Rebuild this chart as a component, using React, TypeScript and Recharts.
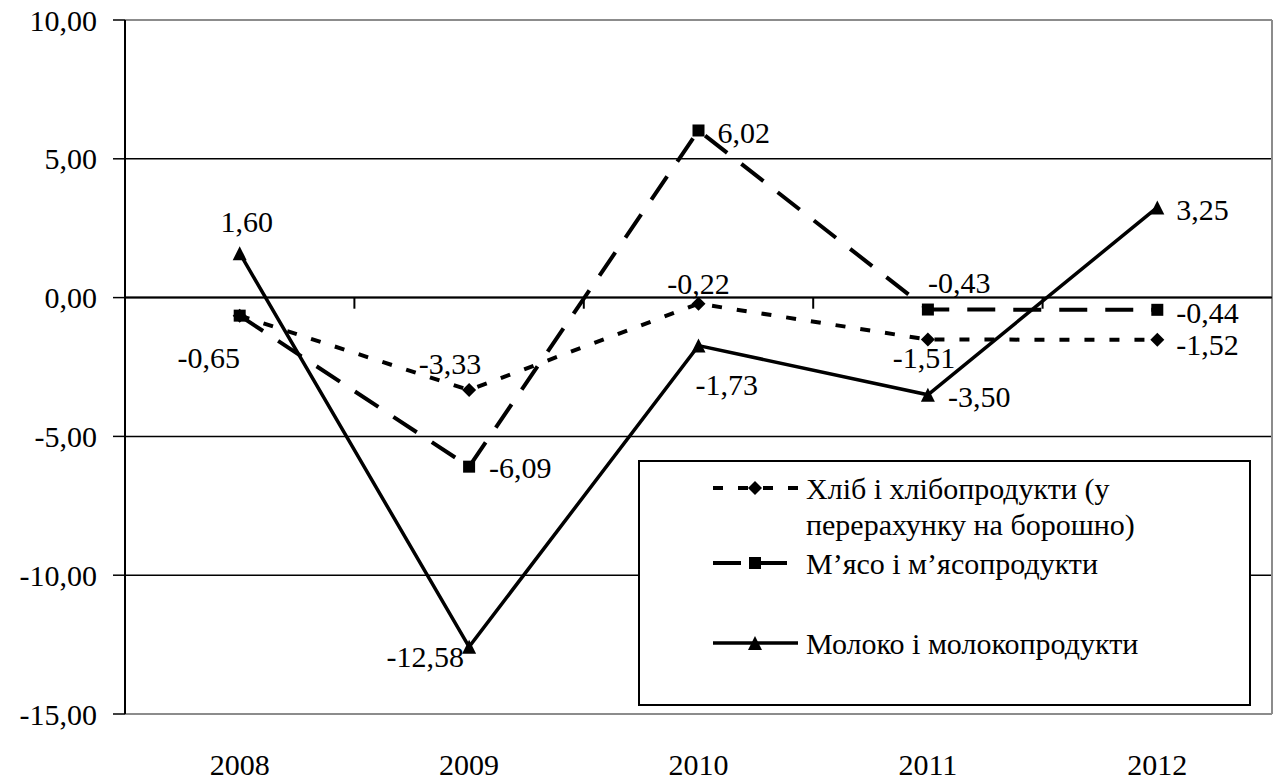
import React from "react";
import {
  LineChart,
  Line,
  XAxis,
  YAxis,
  CartesianGrid,
  ReferenceLine,
  LabelList,
  Legend,
} from "recharts";

const years = ["2008", "2009", "2010", "2011", "2012"];
const bread = [-0.65, -3.33, -0.22, -1.51, -1.52];
const meat = [-0.65, -6.09, 6.02, -0.43, -0.44];
const milk = [1.6, -12.58, -1.73, -3.5, 3.25];
const yTicks = [-15, -10, -5, 0, 5, 10];
const names = [
  ["Хліб і хлібопродукти (у", "перерахунку на борошно)"],
  ["М’ясо і м’ясопродукти"],
  ["Молоко і молокопродукти"],
];

const data = years.map((year, i) => ({
  i,
  year,
  bread: bread[i],
  meat: meat[i],
  milk: milk[i],
}));

const FONT = "Liberation Serif, Tinos, DejaVu Serif, Times New Roman, Times, serif";
const fmt = (v: number) => v.toFixed(2).replace(".", ",");

// label placement per point: [anchor, dx, dy]
type Place = ["start" | "middle" | "end", number, number] | null;
const breadPlace: Place[] = [
  ["middle", -31, 42],
  ["middle", -19, -27],
  ["middle", 0, -20],
  ["middle", -4, 18],
  ["start", 19, 5],
];
const meatPlace: Place[] = [
  null,
  ["start", 20, 1],
  ["start", 19, 2],
  ["start", 0, -27],
  ["start", 19, 3],
];
const milkPlace: Place[] = [
  ["middle", 7, -32],
  ["end", -5, 10],
  ["start", -3, 39],
  ["start", 20, 2],
  ["start", 19, 2],
];

const makeLabel = (places: Place[]) => (props: any) => {
  const { x, y, value, index } = props;
  const p = places[index];
  if (!p) return null;
  return (
    <text
      key={`l-${index}`}
      x={x + p[1]}
      y={y + p[2]}
      textAnchor={p[0]}
      dominantBaseline="central"
      style={{ fontSize: 30, fontFamily: FONT }}
      fill="#000"
    >
      {fmt(value)}
    </text>
  );
};

const Diamond = ({ cx, cy }: { cx: number; cy: number }) => (
  <polygon
    points={`${cx},${cy - 7} ${cx + 7},${cy} ${cx},${cy + 7} ${cx - 7},${cy}`}
    fill="#000"
  />
);
const Square = ({ cx, cy }: { cx: number; cy: number }) => (
  <rect x={cx - 6} y={cy - 6} width={12} height={12} fill="#000" />
);
const Triangle = ({ cx, cy }: { cx: number; cy: number }) => (
  <polygon
    points={`${cx},${cy - 7} ${cx + 7},${cy + 7} ${cx - 7},${cy + 7}`}
    fill="#000"
  />
);

const BREAD_DASH = "10 15";
const MEAT_DASH = "28 18";

const LegendBox = () => {
  const rows = [28, 103, 183];
  const lx1 = 75;
  const lx2 = 160;
  const mx = 117;
  return (
    <svg width={613} height={246} style={{ display: "block" }}>
      <rect x={1} y={1} width={611} height={244} fill="#fff" stroke="#000" strokeWidth={2} />
      <line x1={lx1} y1={rows[0]} x2={lx2} y2={rows[0]} stroke="#000" strokeWidth={4} strokeDasharray={BREAD_DASH} />
      <Diamond cx={mx} cy={rows[0]} />
      <line x1={lx1} y1={rows[1]} x2={lx2} y2={rows[1]} stroke="#000" strokeWidth={4} strokeDasharray={MEAT_DASH} />
      <Square cx={mx} cy={rows[1]} />
      <line x1={lx1} y1={rows[2]} x2={lx2} y2={rows[2]} stroke="#000" strokeWidth={3.5} />
      <Triangle cx={mx} cy={rows[2]} />
      <g style={{ fontSize: 30, fontFamily: FONT }} fill="#000" dominantBaseline="central">
        <text x={168} y={rows[0]}>{names[0][0]}</text>
        <text x={168} y={rows[0] + 36}>{names[0][1]}</text>
        <text x={168} y={rows[1]}>{names[1][0]}</text>
        <text x={168} y={rows[2]}>{names[2][0]}</text>
      </g>
    </svg>
  );
};

const boundaries = years.slice(1).map((_, i) => i + 0.5);

export default function App() {
  return (
    <div
      style={{
        position: "absolute",
        left: 0,
        top: 0,
        width: 1274,
        height: 780,
        background: "#fff",
        fontFamily: FONT,
      }}
    >
      <LineChart
        width={1274}
        height={780}
        data={data}
        margin={{ top: 20, right: 2, bottom: 0, left: 0 }}
        style={{ fontFamily: FONT }}
      >
        <CartesianGrid vertical={false} stroke="#000" strokeWidth={1.5} />
        <XAxis
          type="number"
          dataKey="i"
          domain={[-0.5, 4.5]}
          ticks={years.map((_, i) => i)}
          tickFormatter={(v) => years[v]}
          interval={0}
          height={66}
          tickSize={0}
          tickMargin={40}
          axisLine={{ stroke: "#8c8c8c", strokeWidth: 2 }}
          tick={{ fontSize: 30, fill: "#000", fontFamily: FONT }}
        />
        <YAxis
          domain={[-15, 10]}
          ticks={yTicks}
          width={125}
          tickSize={12}
          tickMargin={16}
          tickFormatter={fmt}
          axisLine={{ stroke: "#000", strokeWidth: 2 }}
          tickLine={{ stroke: "#000", strokeWidth: 1.5 }}
          tick={{ fontSize: 30, fill: "#000", fontFamily: FONT }}
        />
        <ReferenceLine y={10} stroke="#8c8c8c" strokeWidth={2} />
        <ReferenceLine x={4.5} stroke="#8c8c8c" strokeWidth={2} />
        <ReferenceLine y={0} stroke="#000" strokeWidth={2} />
        {boundaries.map((b) => (
          <ReferenceLine
            key={b}
            segment={[
              { x: b, y: 0 },
              { x: b, y: -0.4 },
            ]}
            stroke="#000"
            strokeWidth={2}
          />
        ))}
        <Line
          dataKey="bread"
          stroke="#000"
          strokeWidth={4}
          strokeDasharray={BREAD_DASH}
          isAnimationActive={false}
          dot={(p: any) => <Diamond key={`b-${p.index}`} cx={p.cx} cy={p.cy} />}
          activeDot={false}
        >
          <LabelList dataKey="bread" content={makeLabel(breadPlace)} />
        </Line>
        <Line
          dataKey="meat"
          stroke="#000"
          strokeWidth={4}
          strokeDasharray={MEAT_DASH}
          isAnimationActive={false}
          dot={(p: any) => <Square key={`m-${p.index}`} cx={p.cx} cy={p.cy} />}
          activeDot={false}
        >
          <LabelList dataKey="meat" content={makeLabel(meatPlace)} />
        </Line>
        <Line
          dataKey="milk"
          stroke="#000"
          strokeWidth={3.5}
          isAnimationActive={false}
          dot={(p: any) => <Triangle key={`k-${p.index}`} cx={p.cx} cy={p.cy} />}
          activeDot={false}
        >
          <LabelList dataKey="milk" content={makeLabel(milkPlace)} />
        </Line>
        <Legend
          layout="vertical"
          align="center"
          verticalAlign="middle"
          wrapperStyle={{ left: 638, top: 460, width: 613, height: 246 }}
          content={() => <LegendBox />}
        />
      </LineChart>
    </div>
  );
}
